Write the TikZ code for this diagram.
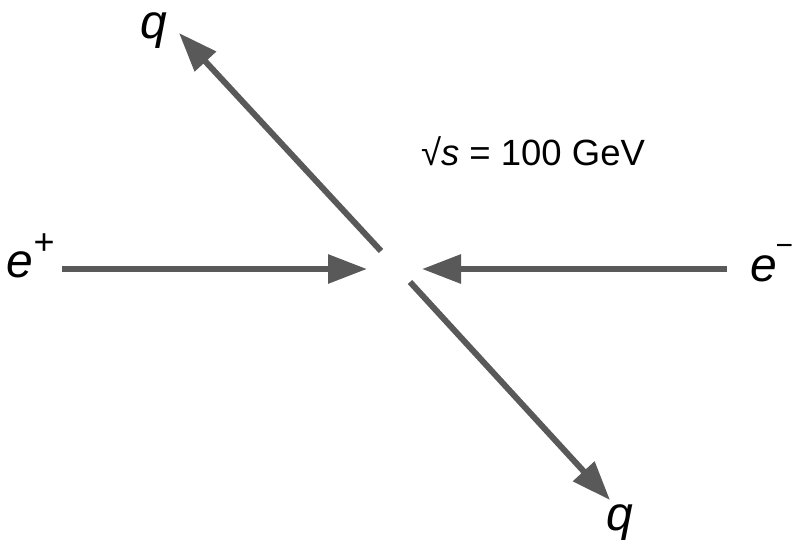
\documentclass[tikz,border=0pt]{standalone}
\usepackage{fontspec}
\setmainfont{Liberation Sans}
\usetikzlibrary{arrows.meta}
\definecolor{arrowgray}{HTML}{595959}
\newcommand{\supmark}[3]{\raisebox{#1}{\fontsize{#3}{#3}\selectfont\upshape #2}}
\tikzset{
  particle/.style={draw=arrowgray, line width=6pt, -{Triangle[length=39pt,width=28pt]}},
  lbl/.style={inner sep=0pt, outer sep=0pt, font=\fontsize{48}{48}\selectfont\itshape, text=black},
  energy/.style={inner sep=0pt, outer sep=0pt, font=\fontsize{36.5}{36.5}\selectfont, text=black}
}
\begin{document}
\begin{tikzpicture}[x=1pt,y=-1pt]
\useasboundingbox (0,0) rectangle (794,541);
% endpoints
\coordinate (epstart) at (62,269);
\coordinate (eptip) at (367,269);
\coordinate (emstart) at (727,269);
\coordinate (emtip) at (422,269);
\coordinate (q1start) at (381,251);
\coordinate (q1tip) at (179,33);
\coordinate (q2start) at (410,282);
\coordinate (q2tip) at (610,500);
% arrows
\draw[particle] (epstart) -- (eptip);
\draw[particle] (emstart) -- (emtip);
\draw[particle] (q1start) -- (q1tip);
\draw[particle] (q2start) -- (q2tip);
% labels
\node[lbl, anchor=base west] (eplus) at (6,277) {e\kern1pt\supmark{23pt}{+}{36}};
\node[lbl, anchor=base west] (eminus) at (750,281) {e\kern-1pt\supmark{26pt}{−}{30}};
\node[lbl, anchor=base west] (qup) at (140,38) {q};
\node[lbl, anchor=base west] (qdown) at (606,530) {q};
\node[energy, anchor=base west] (sqrts) at (421,165) {√\textit{s} = 100 GeV};
\end{tikzpicture}
\end{document}
